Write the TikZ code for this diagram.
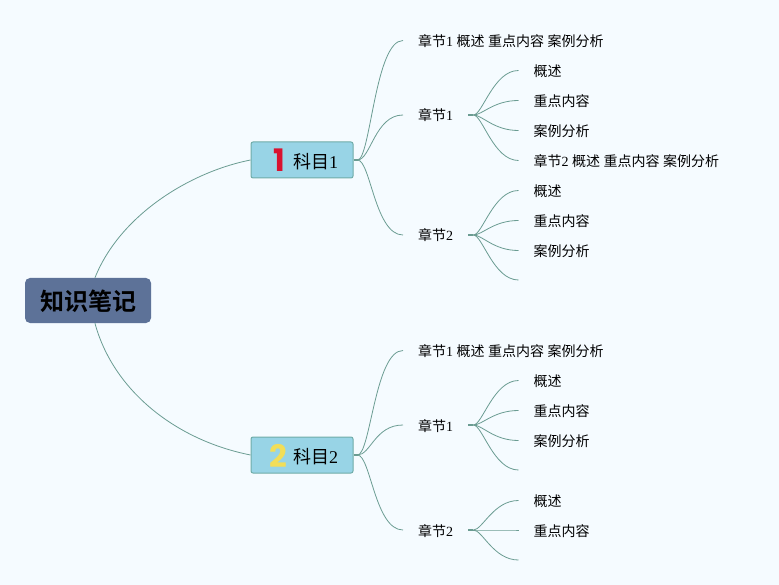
\documentclass[tikz,border=0pt]{standalone}
\usepackage{fontspec}
\usetikzlibrary{calc}
\setmainfont{Liberation Serif}
\newfontfamily\cjk{Noto Sans CJK SC}
\newfontfamily\cjkb{Noto Sans CJK SC Bold}
\newfontfamily\badgefont{Poppins Bold}
\newcommand{\C}[1]{{\cjk #1}}
\newcommand{\twig}[2]{\draw[conn] (#1) .. controls ($(#1)+(9,0)$) and ($(#2)+(-25,0)$) .. (#2);}
\newcommand{\limb}[2]{\draw[conn] (#1) .. controls ($(#1)+(13,0)$) and ($(#2)+(-28,0)$) .. (#2);}
\definecolor{bg}{HTML}{F5FBFF}
\definecolor{rootfill}{HTML}{5D7298}
\definecolor{subfill}{HTML}{98D4E6}
\definecolor{subline}{HTML}{6FACA8}
\definecolor{linec}{HTML}{6B9C92}
\definecolor{badgered}{HTML}{D9122F}
\definecolor{badgeyellow}{HTML}{F2DE58}
\tikzset{
  conn/.style={draw=linec,line width=0.8pt},
  stub/.style={draw=linec,line width=1.5pt},
  rootbox/.style={fill=rootfill,rounded corners=5pt,minimum width=126pt,minimum height=45pt,inner sep=0pt,font=\fontsize{24}{28}\selectfont\cjkb},
  subbox/.style={fill=subfill,draw=subline,line width=1pt,rounded corners=2pt,minimum width=102pt,minimum height=36pt,inner sep=0pt},
  subtext/.style={inner sep=0pt,anchor=west,font=\fontsize{18}{20}\selectfont},
  badge/.style={inner sep=0pt,font=\fontsize{31}{36}\selectfont\badgefont},
  item/.style={anchor=west,inner xsep=15pt,inner ysep=0pt,text height=13pt,text depth=1pt,font=\fontsize{14}{16}\selectfont}
}
\begin{document}
\begin{tikzpicture}[x=1pt,y=-1pt]
\useasboundingbox[fill=bg] (0,0) rectangle (779,585);
% main boxes
\node[rootbox,text height=20pt,text depth=1pt] (root) at (88,300.5) {知识笔记};
\node[subbox] (s1) at (302,160) {};
\node[subbox] (s2) at (302,455) {};
\node[badge,text=badgered] (b1) at (279.5,160.5) {1};
\node[badge,text=badgeyellow] (b2) at (278,455.5) {2};
\node[subtext] (t1) at (293,161.5) {\C{科目}1};
\node[subtext] (t2) at (293,456.5) {\C{科目}2};
% subject 1
\node[item] (a0) at (403,40.5) {\C{章节}1 \C{概述} \C{重点内容} \C{案例分析}};
\node[item] (a1) at (403,115) {\C{章节}1};
\node[item] (a2) at (403,235) {\C{章节}2};
\node[item] (a11) at (518.5,70.5) {\C{概述}};
\node[item] (a12) at (518.5,100.5) {\C{重点内容}};
\node[item] (a13) at (518.5,130.5) {\C{案例分析}};
\node[item] (a14) at (518.5,160.5) {\C{章节}2 \C{概述} \C{重点内容} \C{案例分析}};
\node[item] (a21) at (518.5,190.5) {\C{概述}};
\node[item] (a22) at (518.5,220.5) {\C{重点内容}};
\node[item] (a23) at (518.5,250.5) {\C{案例分析}};
\coordinate (a24) at (518.5,280);
% subject 2
\node[item] (d0) at (403,350.5) {\C{章节}1 \C{概述} \C{重点内容} \C{案例分析}};
\node[item] (d1) at (403,425) {\C{章节}1};
\node[item] (d2) at (403,530) {\C{章节}2};
\node[item] (d11) at (518.5,380.5) {\C{概述}};
\node[item] (d12) at (518.5,410.5) {\C{重点内容}};
\node[item] (d13) at (518.5,440.5) {\C{案例分析}};
\coordinate (d14) at (518.5,470);
\node[item] (d21) at (518.5,500.5) {\C{概述}};
\node[item] (d22) at (518.5,530) {\C{重点内容}};
\coordinate (d23) at (518.5,560);
% hubs
\coordinate (hs1) at ($(s1.east)+(4,0)$);
\coordinate (hs2) at ($(s2.east)+(4,0)$);
\coordinate (ha1) at ($(a1.east)+(5,0)$);
\coordinate (ha2) at ($(a2.east)+(5,0)$);
\coordinate (hd1) at ($(d1.east)+(5,0)$);
\coordinate (hd2) at ($(d2.east)+(5,0)$);
% root connectors
\draw[conn] (root.73) .. controls (120,215) and (190,172) .. (s1.west);
\draw[conn] (root.-73) .. controls (113,390) and (175,440) .. (s2.west);
% stubs
\foreach \p/\q in {s1/hs1,s2/hs2,a1/ha1,a2/ha2,d1/hd1,d2/hd2}{\draw[stub] (\p.east) -- (\q);}
% branches
\limb{hs1}{a0.west}\limb{hs1}{a1.west}\limb{hs1}{a2.west}
\limb{hs2}{d0.west}\limb{hs2}{d1.west}\limb{hs2}{d2.west}
\twig{ha1}{a11.west}\twig{ha1}{a12.west}\twig{ha1}{a13.west}\twig{ha1}{a14.west}
\twig{ha2}{a21.west}\twig{ha2}{a22.west}\twig{ha2}{a23.west}\twig{ha2}{a24}
\twig{hd1}{d11.west}\twig{hd1}{d12.west}\twig{hd1}{d13.west}\twig{hd1}{d14}
\twig{hd2}{d21.west}\twig{hd2}{d22.west}\twig{hd2}{d23}
\end{tikzpicture}
\end{document}
